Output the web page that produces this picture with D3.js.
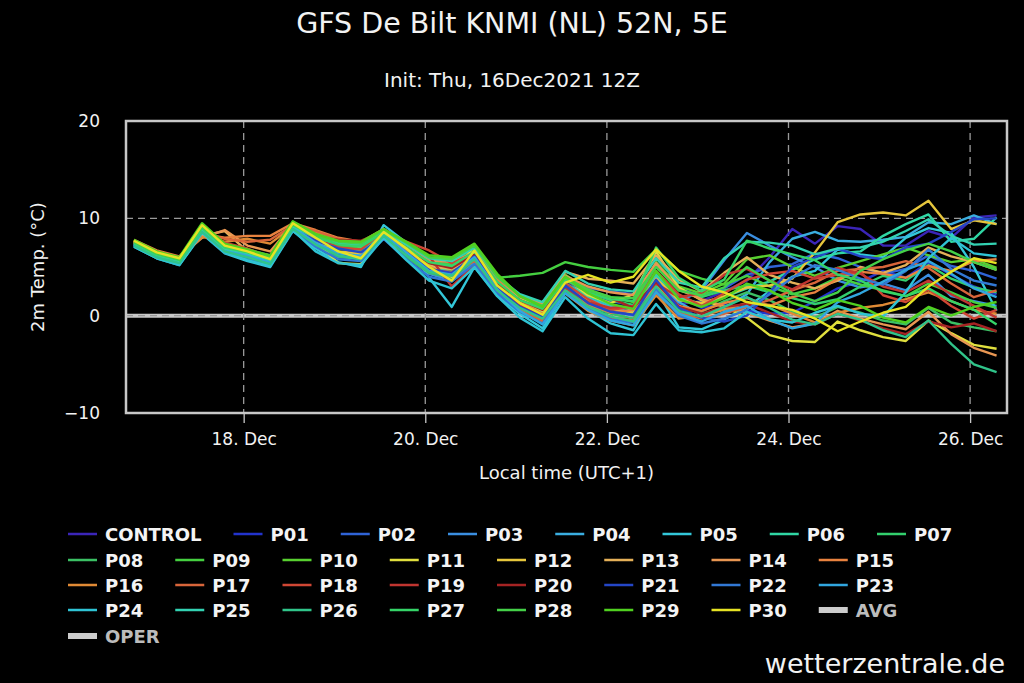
<!DOCTYPE html>
<html>
<head>
<meta charset="utf-8">
<script src="https://d3js.org/d3.v7.min.js"></script>
<style>
body { margin: 0; background: #000; }
svg { display: block; font-family: 'DejaVu Sans', sans-serif; }
</style>
</head>
<body>
<svg id="chart" width="1024" height="683"></svg>
<script>
// forecast times, local time (UTC+1)
var times = [
"2021-12-16T19:00",
"2021-12-17T01:00","2021-12-17T07:00","2021-12-17T13:00","2021-12-17T19:00",
"2021-12-18T01:00","2021-12-18T07:00","2021-12-18T13:00","2021-12-18T19:00",
"2021-12-19T01:00","2021-12-19T07:00","2021-12-19T13:00","2021-12-19T19:00",
"2021-12-20T01:00","2021-12-20T07:00","2021-12-20T13:00","2021-12-20T19:00",
"2021-12-21T01:00","2021-12-21T07:00","2021-12-21T13:00","2021-12-21T19:00",
"2021-12-22T01:00","2021-12-22T07:00","2021-12-22T13:00","2021-12-22T19:00",
"2021-12-23T01:00","2021-12-23T07:00","2021-12-23T13:00","2021-12-23T19:00",
"2021-12-24T01:00","2021-12-24T07:00","2021-12-24T13:00","2021-12-24T19:00",
"2021-12-25T01:00","2021-12-25T07:00","2021-12-25T13:00","2021-12-25T19:00",
"2021-12-26T01:00","2021-12-26T07:00"];

var names = ["CONTROL","P01","P02","P03","P04","P05","P06","P07","P08","P09","P10",
"P11","P12","P13","P14","P15","P16","P17","P18","P19","P20",
"P21","P22","P23","P24","P25","P26","P27","P28","P29","P30","AVG","OPER"];

var colors = ["#3b25b8","#2233cc","#2f63d6","#3a8ee0","#3aaee0","#33c7d9","#30d6a4","#33cf6d","#3bc064","#45cf40","#58d030",
"#e0df3e","#e6c63c","#e5b058","#e89652","#e8823f","#e08a35","#d8653a","#d04734","#c03530","#a52323",
"#2446c6","#3278d4","#31a6df","#2fc3d4","#33d2b2","#30c48a","#35d468","#44d048","#50d020","#e6e324","#cccccc","#cccccc"];

// AVG and OPER are switched off in the legend
var hidden = ["AVG","OPER"];

// 2m temperature (°C) per member
var CONTROL = [7.5,6.3,5.6,8.7,7.0,6.5,5.8,9.0,7.9,7.0,6.9,8.1,6.6, 5.0,4.2,5.8,2.8,1.0,0.0,3.0,1.5,0.5,0.2,3.6,1.2, 1.5,2.5,3.6,6.0,8.9,7.4,9.2,8.9,7.2,7.2,8.7,8.0,10.1,10.3];
var P01 = [7.3,6.1,5.5,8.8,6.8,6.1,5.5,9.1,7.4,6.3,6.0,8.3,6.2, 4.5,4.0,6.0,3.2,1.4,0.4,3.4,2.2,1.5,1.0,4.4,2.0, 0.8,1.2,0.5,0.2,0.3,1.5,2.8,3.5,4.6,3.9,5.5,4.2,3.0,2.2];
var P02 = [7.4,6.2,5.7,9.0,7.2,6.8,6.2,9.2,8.1,7.3,7.0,8.5,7.1, 5.6,5.2,6.5,3.5,1.6,0.6,3.6,2.8,2.5,2.2,5.0,2.8, 2.0,2.8,4.2,5.0,5.3,6.4,5.9,5.0,4.3,4.8,6.2,5.1,4.6,3.8];
var P03 = [7.2,6.0,5.3,8.6,6.6,6.0,5.3,8.9,7.2,6.0,5.9,8.2,6.1, 4.3,3.6,5.5,2.5,0.8,-0.6,2.8,1.2,0.4,0.0,3.4,1.4, 2.6,5.7,8.5,7.2,6.0,5.0,3.6,2.9,3.3,2.6,4.2,2.0,1.5,1.0];
var P04 = [7.3,6.1,5.4,8.9,6.9,6.2,5.4,9.0,7.5,6.5,6.2,8.8,6.7, 5.2,4.4,6.6,3.1,1.1,0.3,3.9,1.8,0.9,0.3,4.0,1.4, 0.1,0.8,2.2,5.5,7.9,8.6,7.7,7.6,7.8,8.1,9.6,9.4,10.3,9.4];
var P05 = [7.1,5.9,5.2,8.4,6.4,5.6,5.0,8.7,6.9,5.5,5.0,9.3,7.5, 3.9,0.9,5.0,2.1,0.2,-1.3,2.4,0.6,-0.8,-1.5,2.6,-1.2, -1.4,-0.4,0.9,2.5,4.0,4.6,6.8,6.3,6.0,8.0,9.0,8.5,5.0,0.5];
var P06 = [7.4,6.2,5.6,8.8,6.7,6.3,5.7,9.2,7.8,6.9,6.6,8.4,6.4, 4.9,4.7,6.3,3.0,1.3,0.2,3.3,2.0,1.1,0.6,4.2,1.9, 1.2,1.9,2.8,3.5,4.7,5.8,6.4,6.6,8.2,9.4,10.4,7.6,7.9,10.1];
var P07 = [7.5,6.3,5.7,8.9,6.9,6.4,5.9,9.3,7.9,7.1,6.8,8.6,6.8, 5.4,5.0,6.8,3.6,1.7,0.8,3.8,2.4,1.6,1.1,5.1,2.6, 1.9,2.6,3.1,2.4,1.8,1.2,1.7,3.0,4.1,3.6,5.2,3.8,2.9,2.4];
var P08 = [7.3,6.1,5.5,8.7,6.6,6.0,5.4,8.9,7.3,6.1,5.8,8.0,6.0, 4.4,3.9,5.7,2.6,0.7,-0.4,2.9,1.0,0.2,-0.3,3.1,0.7, 0.4,1.5,2.4,1.6,0.4,-0.2,0.9,0.3,-0.5,-0.9,0.8,-0.7,-1.2,-1.6];
var P09 = [7.6,6.4,5.8,9.1,7.1,6.5,6.0,9.3,8.0,7.2,7.0,8.6,6.9, 5.5,5.3,6.9,3.9,4.1,4.4,5.5,5.0,4.7,4.5,6.8,4.6, 3.8,3.2,4.1,3.0,2.2,2.8,3.9,3.2,2.6,2.0,3.3,2.4,1.4,0.8];
var P10 = [7.7,6.5,5.9,9.4,7.3,6.7,6.1,9.6,8.3,7.5,7.2,8.9,7.3, 5.8,5.7,7.3,4.1,1.9,1.0,4.2,2.7,1.9,1.4,5.5,3.0, 2.3,3.3,5.8,6.2,5.0,4.1,4.9,5.6,6.3,7.0,6.2,5.5,5.8,4.9];
var P11 = [7.6,6.4,5.8,8.9,7.0,6.3,5.7,9.0,7.6,5.4,5.3,8.5,7.0, 5.2,4.0,7.2,3.3,1.5,0.5,3.9,2.1,1.3,2.2,6.6,2.9, 1.6,0.9,-0.2,-2.0,-2.6,-2.7,-0.6,-1.5,-2.2,-2.6,-0.5,-1.8,-3.0,-3.4];
var P12 = [7.5,6.3,5.7,8.6,7.1,6.6,5.9,9.0,7.8,6.6,6.4,8.0,6.3, 4.6,4.3,6.0,2.9,1.1,0.0,3.1,1.6,0.7,0.3,3.8,1.6, 1.3,2.0,2.9,3.1,3.8,6.5,9.6,10.4,10.6,10.3,11.8,8.9,9.8,9.4];
var P13 = [7.6,6.5,5.9,8.2,8.7,6.6,6.2,9.2,8.4,7.5,7.1,8.4,6.9, 5.1,4.8,6.1,3.4,1.8,1.1,4.5,3.8,3.6,3.3,6.2,3.7, 2.5,4.4,6.0,4.2,3.4,2.8,3.6,5.0,4.4,5.2,7.0,6.1,5.5,4.7];
var P14 = [7.7,6.6,6.0,8.0,8.8,7.2,6.6,9.4,8.5,7.8,7.4,8.7,7.2, 5.7,5.5,6.5,3.7,2.0,1.3,4.1,3.0,2.4,2.1,5.4,2.7, 1.7,1.0,0.3,-0.5,-1.2,-0.8,0.5,-0.3,-0.9,-1.4,0.4,-1.9,-3.3,-4.1];
var P15 = [7.8,6.7,6.1,8.4,8.0,8.2,8.2,9.5,8.8,8.0,7.6,8.9,7.4, 5.9,5.9,7.0,3.8,1.4,0.2,3.2,1.2,0.3,0.6,3.0,1.0, 0.5,1.3,1.8,1.0,1.9,2.4,3.8,4.5,4.3,3.9,5.1,4.6,5.6,5.8];
var P16 = [7.6,6.5,5.9,8.1,7.6,7.9,7.4,9.2,8.6,7.7,7.3,8.2,6.6, 5.0,4.1,5.9,2.7,0.6,-0.7,2.3,0.5,-0.5,-1.0,2.1,-0.3, 0.0,0.6,1.3,1.1,0.2,-0.7,0.3,0.8,1.1,1.7,2.4,1.5,0.6,0.2];
var P17 = [7.7,6.6,6.0,8.5,7.9,7.6,7.8,9.3,8.7,7.9,7.5,8.3,6.5, 4.7,4.5,5.6,2.4,0.5,-0.5,2.5,0.9,-0.2,-0.5,2.4,0.3, -0.3,0.2,0.9,1.6,2.6,3.4,4.6,4.8,5.0,5.6,4.9,3.3,1.9,2.6];
var P18 = [7.6,6.5,5.9,8.9,7.5,6.9,6.0,9.1,8.2,7.0,6.8,8.7,7.6, 6.7,5.4,6.4,3.0,1.0,-0.2,3.3,1.7,0.6,0.9,4.6,2.2, 1.0,2.3,3.7,4.3,4.6,3.8,4.2,4.5,2.1,1.4,2.7,1.0,-0.3,0.6];
var P19 = [7.5,6.4,5.8,9.2,7.4,6.8,5.9,9.4,7.9,7.3,7.2,8.8,7.4, 6.1,3.0,5.2,2.5,0.9,0.0,2.9,1.4,0.8,1.0,3.3,1.9, 2.3,4.2,4.8,3.6,2.7,3.9,4.9,4.3,3.0,2.4,3.6,2.2,1.0,-0.2];
var P20 = [7.4,6.3,5.7,9.0,7.3,6.6,6.1,9.1,8.1,7.8,7.7,8.6,7.0, 5.4,4.9,6.3,3.3,1.6,0.6,3.6,2.5,1.8,0.8,3.5,0.9, 0.2,0.9,1.2,0.3,-0.6,-0.9,0.2,-0.5,-1.3,-1.9,-0.6,-1.2,-0.8,-1.6];
var P21 = [7.3,6.2,5.5,8.8,6.8,6.4,5.6,9.0,7.7,6.9,6.5,8.1,6.5, 4.8,4.4,6.1,2.9,0.9,-0.1,3.1,1.3,0.4,0.1,3.7,0.8, -0.2,-0.6,0.0,2.4,5.0,6.0,6.9,6.1,5.8,7.0,7.4,8.6,9.9,10.0];
var P22 = [7.2,6.0,5.4,8.6,6.5,5.9,5.2,8.8,7.1,5.8,5.6,7.9,5.8, 4.0,3.5,5.3,2.3,0.4,-0.8,2.6,0.8,-0.4,-0.7,2.8,0.0, -0.8,-0.3,0.6,2.2,3.9,5.2,4.7,3.8,3.2,4.6,6.8,4.8,3.6,3.1];
var P23 = [7.3,6.1,5.4,8.7,6.7,6.2,5.5,9.1,7.5,6.4,6.1,8.4,6.5, 4.6,4.2,6.0,2.7,0.5,-0.9,2.3,0.6,-0.5,-1.0,2.4,0.2, -0.6,0.4,1.0,-0.4,-1.3,-0.8,1.4,2.3,3.5,4.7,5.6,4.3,2.8,1.9];
var P24 = [7.1,5.9,5.2,8.5,6.5,5.7,5.1,8.8,6.6,5.4,5.2,8.0,5.7, 3.6,2.8,5.0,2.0,-0.2,-1.6,1.9,-0.3,-1.8,-2.0,1.2,-1.5, -1.7,-1.3,0.4,-0.4,-0.7,0.3,1.0,0.2,-0.1,2.4,5.9,8.0,6.4,6.1];
var P25 = [7.4,6.2,5.6,8.9,6.9,6.4,5.7,9.2,8.0,7.4,7.3,8.7,7.3, 5.9,5.6,7.0,4.0,2.2,1.4,4.6,3.3,2.7,2.5,5.9,3.4, 2.9,5.9,7.6,7.5,7.2,6.3,6.9,7.0,7.6,8.7,9.9,8.2,7.3,7.4];
var P26 = [7.2,6.0,5.4,8.6,6.6,6.0,5.3,8.9,7.3,6.2,5.8,8.2,6.2, 4.5,4.1,5.8,2.6,0.8,-0.3,2.6,0.9,-0.1,-0.6,3.0,0.5, -0.1,0.9,1.9,0.8,-0.4,-0.9,0.2,-0.4,-1.5,-2.2,-0.5,-2.9,-5.0,-5.8];
var P27 = [7.5,6.3,5.7,9.0,7.0,6.5,5.8,9.3,8.1,7.3,7.1,8.5,7.0, 5.5,5.1,6.6,3.5,1.6,0.7,3.7,2.4,1.7,1.5,7.0,3.9, 2.5,3.7,7.7,6.9,6.3,5.7,4.2,3.6,2.5,2.0,2.8,1.5,0.6,-0.9];
var P28 = [7.6,6.4,5.8,9.2,7.2,6.6,6.0,9.4,8.2,7.6,7.4,8.8,7.5, 6.0,5.8,7.2,4.0,2.0,1.0,4.0,2.6,1.9,1.8,5.0,2.6, 2.1,2.9,5.0,3.6,2.3,1.5,2.4,4.6,5.8,6.7,7.4,6.6,5.5,4.7];
var P29 = [7.8,6.6,6.0,9.5,7.4,6.8,6.2,9.7,8.4,7.7,7.6,8.9,7.6, 6.2,6.0,7.4,4.3,2.0,0.9,4.0,2.3,1.2,0.7,4.6,1.7, 0.9,1.8,3.3,2.6,1.3,0.6,1.6,1.0,-0.2,-0.7,0.9,0.0,0.9,1.4];
var P30 = [7.7,6.5,5.9,9.3,7.2,6.6,5.8,9.5,8.0,6.6,5.9,8.6,6.9, 5.0,3.6,6.7,3.1,1.3,0.1,3.4,4.2,3.4,4.0,6.8,4.6, 3.0,2.4,1.4,1.0,0.6,-0.3,-1.6,-0.6,0.3,0.9,3.0,4.5,5.9,5.4];

var members = [CONTROL,P01,P02,P03,P04,P05,P06,P07,P08,P09,P10,P11,P12,P13,P14,P15,
  P16,P17,P18,P19,P20,P21,P22,P23,P24,P25,P26,P27,P28,P29,P30];

var yTicks = [-10, 0, 10, 20];
var xTicks = ["2021-12-18","2021-12-20","2021-12-22","2021-12-24","2021-12-26"];

var parseT = d3.utcParse("%Y-%m-%dT%H:%M");
var parseD = d3.utcParse("%Y-%m-%d");
var dates = times.map(parseT);

var svg = d3.select("#chart");
svg.append("rect").attr("width", 1024).attr("height", 683).attr("fill", "#000");

var pLeft = 126, pRight = 1007, pTop = 121, pBottom = 413;

var x = d3.scaleUtc()
  .domain([parseT("2021-12-16T16:54"), parseT("2021-12-26T09:45")])
  .range([pLeft, pRight]);
var y = d3.scaleLinear().domain([-10, 20]).range([pBottom, pTop]);

// titles
svg.append("text").attr("x", 512).attr("y", 33).attr("text-anchor", "middle")
  .attr("fill", "#f2f2f2").style("font-size", "28.5px").text("GFS De Bilt KNMI (NL) 52N, 5E");
svg.append("text").attr("x", 512).attr("y", 87).attr("text-anchor", "middle")
  .attr("fill", "#f2f2f2").style("font-size", "20px").text("Init: Thu, 16Dec2021 12Z");

// zero line
svg.append("line").attr("x1", pLeft).attr("x2", pRight)
  .attr("y1", y(0)).attr("y2", y(0))
  .attr("stroke", "#c8c8c8").attr("stroke-width", 4);

// grid
var grid = svg.append("g").attr("stroke", "#9a9a9a").attr("stroke-width", 1.3)
  .attr("stroke-dasharray", "7,5");
grid.selectAll(".v").data(xTicks).enter().append("line")
  .attr("x1", function(d) { return x(parseD(d)); })
  .attr("x2", function(d) { return x(parseD(d)); })
  .attr("y1", pTop).attr("y2", pBottom);
grid.selectAll(".h").data(yTicks).enter().append("line")
  .attr("x1", pLeft).attr("x2", pRight)
  .attr("y1", function(d) { return y(d); })
  .attr("y2", function(d) { return y(d); });

// member lines
var line = d3.line()
  .x(function(d, i) { return x(dates[i]); })
  .y(function(d) { return y(d); });

svg.append("g").selectAll("path").data(members).enter().append("path")
  .attr("d", line)
  .attr("fill", "none")
  .attr("stroke", function(d, i) { return colors[i]; })
  .attr("stroke-width", 2.4)
  .attr("stroke-linejoin", "round");

// frame
svg.append("rect").attr("x", pLeft).attr("y", pTop)
  .attr("width", pRight - pLeft).attr("height", pBottom - pTop)
  .attr("fill", "none").attr("stroke", "#c8c8c8").attr("stroke-width", 2.5);

// axes
var xAxis = svg.append("g").attr("transform", "translate(0," + pBottom + ")")
  .call(d3.axisBottom(x).tickValues(xTicks.map(parseD))
    .tickFormat(d3.utcFormat("%d. %b")).tickSize(10).tickPadding(10));
xAxis.select(".domain").remove();
xAxis.selectAll("line").attr("stroke", "#c8c8c8").attr("stroke-width", 1.3);
xAxis.selectAll("text").attr("fill", "#f2f2f2").style("font-size", "17px")
  .style("font-family", "'DejaVu Sans', sans-serif");

var yAxis = svg.append("g").attr("transform", "translate(" + (pLeft - 26) + ",0)")
  .call(d3.axisLeft(y).tickValues(yTicks).tickSize(0).tickPadding(0));
yAxis.select(".domain").remove();
yAxis.selectAll("text").attr("fill", "#f2f2f2").style("font-size", "17px")
  .style("font-family", "'DejaVu Sans', sans-serif");

svg.append("text").attr("transform", "translate(44," + ((pTop + pBottom) / 2) + ") rotate(-90)")
  .attr("text-anchor", "middle").attr("fill", "#f2f2f2").style("font-size", "18px")
  .text("2m Temp. (°C)");
svg.append("text").attr("x", (pLeft + pRight) / 2).attr("y", 479).attr("text-anchor", "middle")
  .attr("fill", "#f2f2f2").style("font-size", "18px").text("Local time (UTC+1)");

// legend, 8 items per row
var legend = svg.append("g").style("font-size", "18px").style("font-weight", "bold");
var rowY = [534, 560, 585, 610, 636];
var lx = 68, row = 0;
names.forEach(function(name, i) {
  var r = Math.floor(i / 8);
  if (r !== row) { row = r; lx = 68; }
  var off = hidden.indexOf(name) >= 0;
  var cy = rowY[r];
  legend.append("line").attr("x1", lx).attr("x2", lx + 29)
    .attr("y1", cy).attr("y2", cy)
    .attr("stroke", colors[i]).attr("stroke-width", off ? 6 : 2.5);
  var t = legend.append("text").attr("x", lx + 37).attr("y", cy + 6.5)
    .attr("fill", off ? "#bcbcbc" : "#f4f4f4").text(name);
  lx += 37 + t.node().getComputedTextLength() + 32;
});

svg.append("text").attr("x", 1005).attr("y", 673).attr("text-anchor", "end")
  .attr("fill", "#f2f2f2").style("font-size", "27px").text("wetterzentrale.de");
</script>
</body>
</html>
